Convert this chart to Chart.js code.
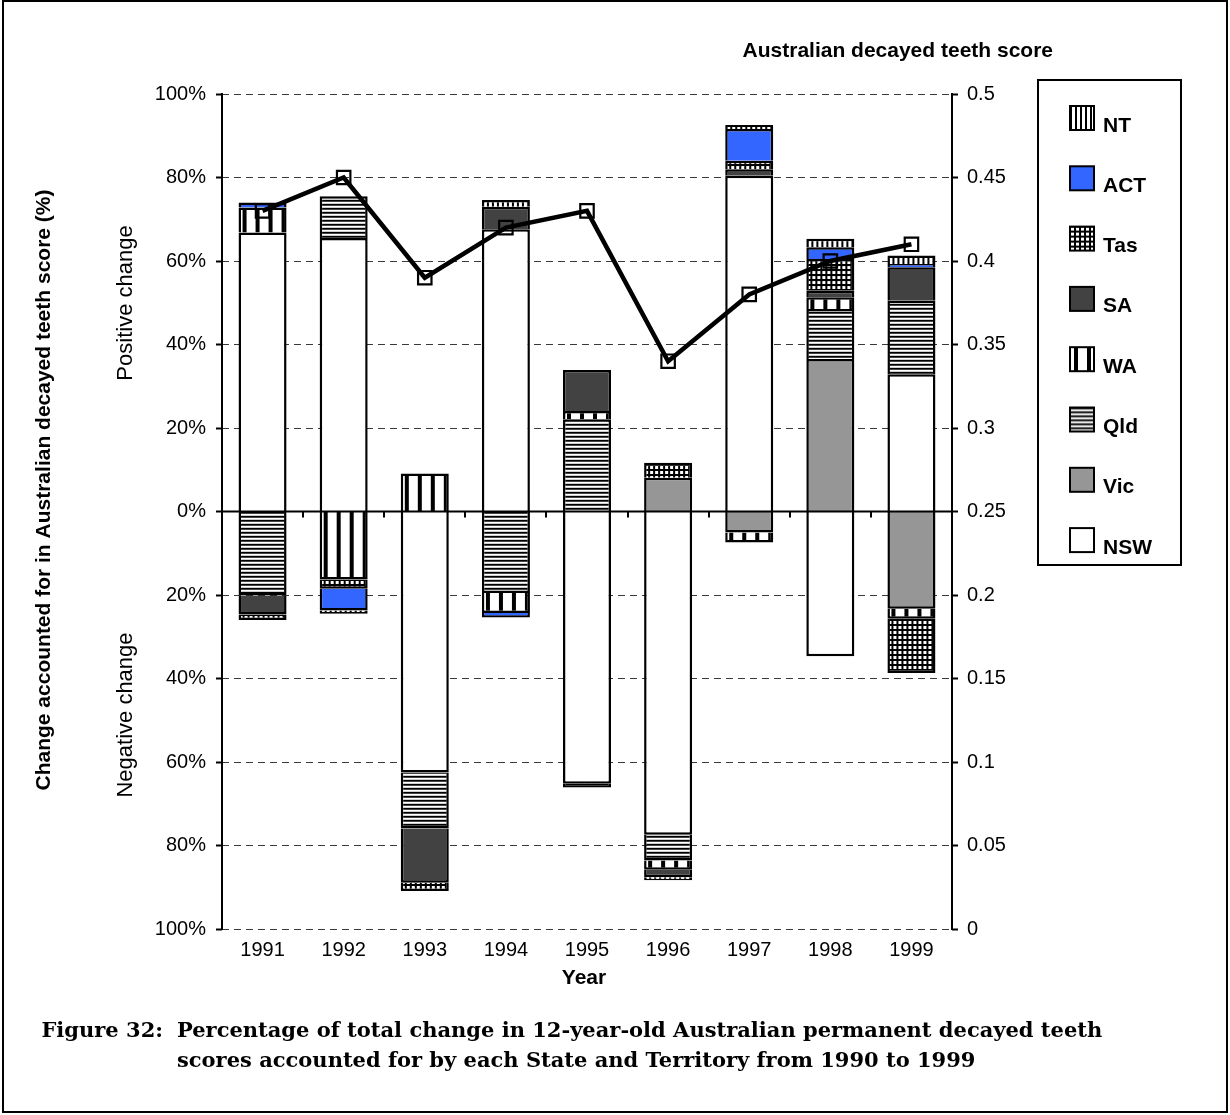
<!DOCTYPE html>
<html>
<head>
<meta charset="utf-8">
<script src="https://cdn.jsdelivr.net/npm/chart.js@4/dist/chart.umd.min.js"></script>
<style>
  html, body { margin: 0; padding: 0; background: #fff; }
  #wrap { position: relative; width: 1230px; height: 1115px; }
  canvas { display: block; }
</style>
</head>
<body>
<div id="wrap"><canvas id="chart" width="1230" height="1115"></canvas></div>
<script>
// Contribution of each State/Territory to the yearly change (% of total change)
const years = ['1991', '1992', '1993', '1994', '1995', '1996', '1997', '1998', '1999'];
const nsw = [66.8, 65.5, -62.5, 67.6, -65.2, -77.4, 80.4, -34.7, 32.9];
const vic = [null, null, null, null, null, 8.1, -5.0, 36.5, -23.3];
const qld = [-20.1, 10.0, -13.4, -19.5, 22.1, -6.2, null, 12.0, 17.6];
const wa  = [6.0, -16.3, 9.1, -4.8, 2.0, -2.2, -2.4, 2.8, -2.4];
const sa  = [-4.6, null, -13.0, 5.4, 9.8, -1.8, 1.6, 1.6, 8.0];
const tas = [-1.3, -2.2, -2.0, null, -0.9, 3.6, 2.0, 7.6, -13.0];
const act = [1.2, -5.2, null, -1.1, null, null, 7.6, 2.8, 0.8];
const nt  = [null, -0.8, null, 1.6, null, -0.7, 1.0, 2.0, 2.0];
// Australian decayed teeth score (right axis)
const ausScore = [0.43, 0.45, 0.39, 0.42, 0.43, 0.34, 0.38, 0.40, 0.41];

const SANS = 'Arial, "Liberation Sans", sans-serif';
const SERIF = '"DejaVu Serif", "Liberation Serif", serif';
const BAR_FRAC = 0.592;

// ---- fill patterns -------------------------------------------------------
function tile(w, h, paint) {
  const c = document.createElement('canvas');
  c.width = w; c.height = h;
  paint(c.getContext('2d'));
  return c;
}
const tiles = {
  nt: tile(5, 5, g => { g.fillStyle = '#fff'; g.fillRect(0, 0, 5, 5); g.fillStyle = '#000'; g.fillRect(0, 0, 2, 5); }),
  wa: tile(13, 13, g => { g.fillStyle = '#fff'; g.fillRect(0, 0, 13, 13); g.fillStyle = '#000'; g.fillRect(4, 0, 4, 13); }),
  tas: tile(5, 5, g => { g.fillStyle = '#000'; g.fillRect(0, 0, 5, 5); g.fillStyle = '#fff'; g.fillRect(1, 1, 3, 3); }),
  qld: tile(4, 4, g => {
    g.fillStyle = '#000'; g.fillRect(0, 0, 4, 1);
    g.fillStyle = '#444'; g.fillRect(0, 1, 4, 1);
    g.fillStyle = '#fff'; g.fillRect(0, 2, 4, 1);
    g.fillStyle = '#cfcfcf'; g.fillRect(0, 3, 4, 1);
  })
};
const solids = { nsw: '#ffffff', vic: '#969696', sa: '#424242', act: '#3366ff' };

function patternAt(ctx, key, x0, y0) {
  const p = ctx.createPattern(tiles[key], 'repeat');
  if (p.setTransform) p.setTransform(new DOMMatrix().translate(x0, y0));
  return p;
}
function fillFor(key) {
  if (solids[key]) return solids[key];
  return (c) => {
    const chart = c.chart;
    const xs = chart.scales && chart.scales.x;
    let x0 = 0;
    if (xs && xs.width && c.dataIndex !== undefined) {
      x0 = xs.getPixelForValue(c.dataIndex) - (xs.width / years.length) * BAR_FRAC / 2;
    }
    return patternAt(chart.ctx, key, x0, 0);
  };
}

// stacking order from the zero line outwards
const states = [
  { label: 'NSW', key: 'nsw', data: nsw },
  { label: 'Vic', key: 'vic', data: vic },
  { label: 'Qld', key: 'qld', data: qld },
  { label: 'WA',  key: 'wa',  data: wa },
  { label: 'SA',  key: 'sa',  data: sa },
  { label: 'Tas', key: 'tas', data: tas },
  { label: 'ACT', key: 'act', data: act },
  { label: 'NT',  key: 'nt',  data: nt }
];

const barSets = states.map(s => ({
  type: 'bar',
  label: s.label,
  data: s.data,
  backgroundColor: fillFor(s.key),
  borderColor: '#000',
  borderWidth: 2.5,
  borderSkipped: 'start',
  categoryPercentage: 1,
  barPercentage: BAR_FRAC,
  yAxisID: 'y',
  order: 1
}));

const scoreSet = {
  type: 'line',
  label: 'Australian decayed teeth score',
  data: ausScore,
  yAxisID: 'y2',
  borderColor: '#000',
  borderWidth: 4.5,
  tension: 0,
  pointStyle: 'rect',
  pointRadius: 9.5,
  pointBorderWidth: 2.2,
  pointBorderColor: '#000',
  pointBackgroundColor: 'rgba(255,255,255,0)',
  order: 0
};

// ---- decorations: axes lines, titles, legend, caption ---------------------
const decor = {
  id: 'decor',
  afterDatasetsDraw(chart) {
    const { ctx, chartArea: a, scales } = chart;
    const y0 = scales.y.getPixelForValue(0);
    ctx.save();
    ctx.strokeStyle = '#000';
    ctx.lineWidth = 2;
    ctx.beginPath();
    ctx.moveTo(a.left, y0); ctx.lineTo(a.right, y0);
    // category boundary tick marks on the zero line
    const step = scales.x.width / years.length;
    for (let i = 1; i < years.length; i++) {
      const x = Math.round(scales.x.getPixelForValue(i) - step / 2);
      ctx.moveTo(x, y0); ctx.lineTo(x, y0 + 6);
    }
    ctx.moveTo(a.left, a.top - 1); ctx.lineTo(a.left, a.bottom + 1);
    ctx.moveTo(a.right, a.top - 1); ctx.lineTo(a.right, a.bottom + 1);
    ctx.stroke();
    ctx.restore();
  },
  afterDraw(chart) {
    const { ctx } = chart;
    ctx.save();
    // outer frame
    ctx.strokeStyle = '#000';
    ctx.lineWidth = 2;
    ctx.strokeRect(3, 1, 1224, 1111);

    ctx.fillStyle = '#000';
    // right axis heading
    ctx.font = 'bold 21px ' + SANS;
    ctx.textAlign = 'right';
    ctx.textBaseline = 'alphabetic';
    ctx.fillText('Australian decayed teeth score', 1053, 57);

    // x axis title
    ctx.textAlign = 'center';
    ctx.textBaseline = 'middle';
    ctx.fillText('Year', 584, 978);

    // left axis title (rotated)
    ctx.save();
    ctx.translate(44, 490);
    ctx.rotate(-Math.PI / 2);
    ctx.fillText('Change accounted for in Australian decayed teeth score (%)', 0, 0);
    ctx.restore();

    ctx.font = '22px ' + SANS;
    ctx.save();
    ctx.translate(126, 303);
    ctx.rotate(-Math.PI / 2);
    ctx.fillText('Positive change', 0, 0);
    ctx.restore();
    ctx.save();
    ctx.translate(126, 715);
    ctx.rotate(-Math.PI / 2);
    ctx.fillText('Negative change', 0, 0);
    ctx.restore();

    // legend
    const lx = 1038, ly = 80, lw = 143, lh = 485;
    ctx.lineWidth = 2;
    ctx.strokeRect(lx, ly, lw, lh);
    const items = states.slice().reverse();
    ctx.font = 'bold 21px ' + SANS;
    ctx.textAlign = 'left';
    ctx.textBaseline = 'alphabetic';
    items.forEach((s, i) => {
      const iy = 106 + i * 60.3;
      const ix = 1070, sz = 24;
      ctx.fillStyle = solids[s.key] || patternAt(ctx, s.key, ix, iy);
      ctx.fillRect(ix, iy, sz, sz);
      ctx.strokeStyle = '#000';
      ctx.lineWidth = 2;
      ctx.strokeRect(ix, iy, sz, sz);
      ctx.fillStyle = '#000';
      ctx.fillText(s.label, 1103, iy + 25.5);
    });

    // caption
    ctx.font = 'bold 21px ' + SERIF;
    ctx.fillStyle = '#000';
    ctx.textAlign = 'right';
    ctx.fillText('Figure 32:', 163, 1037);
    ctx.textAlign = 'left';
    ctx.fillText('Percentage of total change in 12-year-old Australian permanent decayed teeth', 177, 1037);
    ctx.fillText('scores accounted for by each State and Territory from 1990 to 1999', 177, 1067);
    ctx.restore();
  }
};

new Chart(document.getElementById('chart'), {
  data: { labels: years, datasets: [...barSets, scoreSet] },
  options: {
    responsive: false,
    animation: false,
    events: [],
    layout: { padding: { top: 94, left: 0, right: 0, bottom: 0 } },
    plugins: { legend: { display: false }, tooltip: { enabled: false } },
    scales: {
      x: {
        stacked: true,
        offset: true,
        grid: { display: false, drawTicks: false },
        border: { display: false },
        ticks: { color: '#000', font: { family: SANS, size: 20 }, padding: 9, maxRotation: 0 },
        afterFit: s => { s.height = 186; }
      },
      y: {
        stacked: true,
        position: 'left',
        min: -100,
        max: 100,
        ticks: {
          stepSize: 20,
          color: '#000',
          font: { family: SANS, size: 20 },
          padding: 10,
          callback: v => Math.abs(v) + '%'
        },
        grid: {
          color: c => (c.tick && c.tick.value === 0) ? 'rgba(0,0,0,0)' : '#3a3a3a',
          lineWidth: 1,
          tickColor: '#000',
          tickWidth: 2,
          tickLength: 6
        },
        border: { display: false, dash: [7, 5] },
        afterFit: s => { s.width = 222; }
      },
      y2: {
        position: 'right',
        min: 0,
        max: 0.5,
        ticks: {
          stepSize: 0.05,
          color: '#000',
          font: { family: SANS, size: 20 },
          padding: 9,
          callback: v => String(Math.round(v * 100) / 100)
        },
        grid: { drawOnChartArea: false, tickColor: '#000', tickWidth: 2, tickLength: 6 },
        border: { display: false },
        afterFit: s => { s.width = 278; }
      }
    }
  },
  plugins: [decor]
});
</script>
</body>
</html>
